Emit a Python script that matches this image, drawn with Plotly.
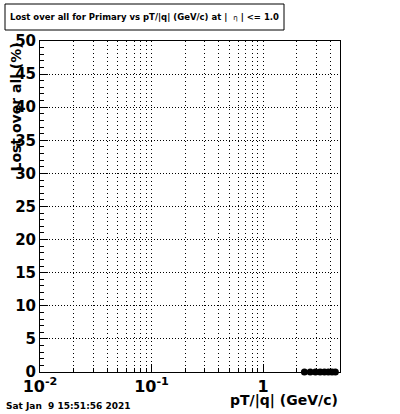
import plotly.graph_objects as go

pt_values = [2.35, 2.65, 2.95, 3.25, 3.55, 3.85, 4.15, 4.45]
lost_values = [0, 0, 0, 0, 0, 0, 0, 0]
x_tick_vals = [0.01, 0.1, 1]
x_tick_text = ["10<sup>-2</sup>", "10<sup>-1</sup>", "1"]
y_tick_vals = [0, 5, 10, 15, 20, 25, 30, 35, 40, 45, 50]

L, R, T, B = 40, 340, 41, 372
W, H = 400, 414
pw, ph = R - L, B - T

def px(x):
    return (x - L) / pw

def py(y):
    return (B - y) / ph

minor_x = []
for dec in [0.01, 0.1, 1]:
    for m in range(2, 10):
        v = dec * m
        if v < 4.9:
            minor_x.append(v)

fig = go.Figure()
fig.add_trace(go.Scatter(
    x=pt_values, y=lost_values, mode="markers",
    marker=dict(color="black", size=7, symbol="circle"),
    cliponaxis=False, showlegend=False,
))

font = dict(family="DejaVu Sans", color="black", weight="bold")

fig.update_layout(
    width=W, height=H,
    margin=dict(l=L, r=W - R, t=T, b=H - B),
    paper_bgcolor="white", plot_bgcolor="white",
    font=font,
    xaxis=dict(
        type="log", range=[-2, 0.69],
        tickvals=x_tick_vals, ticktext=x_tick_text,
        tickfont=dict(size=16, family="DejaVu Sans", weight="bold"),
        showgrid=True, gridcolor="black", griddash="1px,3px", gridwidth=1,
        ticks="inside", ticklen=8, tickcolor="black",
        minor=dict(tickvals=minor_x, showgrid=True, gridcolor="black",
                   griddash="1px,3px", gridwidth=1, ticks="inside", ticklen=4,
                   tickcolor="black"),
        showline=True, linecolor="black", linewidth=1, mirror=True,
        zeroline=False,
    ),
    yaxis=dict(
        range=[0, 50],
        tickvals=y_tick_vals,
        tickfont=dict(size=15, family="DejaVu Sans", weight="bold"),
        showgrid=True, gridcolor="black", griddash="1px,2px", gridwidth=1,
        ticks="inside", ticklen=8, tickcolor="black",
        minor=dict(dtick=1, ticks="inside", ticklen=4, tickcolor="black", showgrid=False),
        showline=True, linecolor="black", linewidth=1, mirror=True,
        zeroline=False,
    ),
    shapes=[dict(type="rect", xref="paper", yref="paper",
                 x0=px(5), x1=px(284), y0=py(30), y1=py(4),
                 line=dict(color="black", width=1), fillcolor="white")],
    annotations=[
        dict(text="Lost over all for Primary vs pT/|q| (GeV/c) at |  <span style='font-size:7px;font-weight:normal'>η</span> | <= 1.0",
             xref="paper", yref="paper", x=px(144.5), y=py(17),
             xanchor="center", yanchor="middle", showarrow=False,
             font=dict(size=8.5, family="DejaVu Sans", weight="bold")),
        dict(text="Lost over all (%)", textangle=-90,
             xref="paper", yref="paper", x=px(15), y=py(41),
             xanchor="center", yanchor="top", showarrow=False,
             font=dict(size=14, family="DejaVu Sans", weight="bold")),
        dict(text="pT/|q| (GeV/c)",
             xref="paper", yref="paper", x=px(340), y=py(400),
             xanchor="right", yanchor="middle", showarrow=False,
             font=dict(size=14, family="DejaVu Sans", weight="bold")),
        dict(text="Sat Jan  9 15:51:56 2021",
             xref="paper", yref="paper", x=px(4), y=py(406),
             xanchor="left", yanchor="middle", showarrow=False,
             font=dict(size=9, family="DejaVu Sans", weight="bold")),
    ],
)

fig.write_html("out.html", config={"displayModeBar": False})
with open("out.html", "r", encoding="utf-8") as f:
    html = f.read()
html = html.replace("<head>", "<head><style>html,body{margin:0;padding:0;overflow:hidden;}</style>", 1)
with open("out.html", "w", encoding="utf-8") as f:
    f.write(html)
